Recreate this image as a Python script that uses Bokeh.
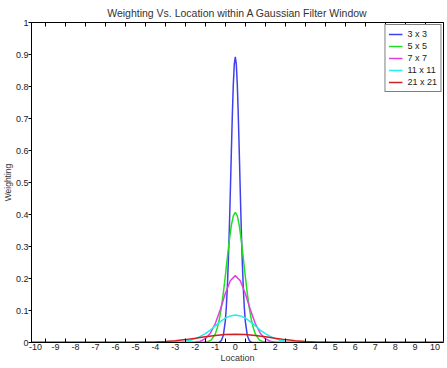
from bokeh.plotting import figure
from bokeh.models import FixedTicker, LinearAxis, Range1d, Legend, LegendItem, Title
from bokeh.embed import file_html
from bokeh.resources import INLINE

# ---- data ----
blue_x = [-10.5, -0.9, -0.8, -0.7, -0.6, -0.5, -0.45, -0.4, -0.35, -0.3, -0.25, -0.2, -0.15, -0.1, -0.05,
          0, 0.05, 0.1, 0.15, 0.2, 0.25, 0.3, 0.35, 0.4, 0.45, 0.5, 0.6, 0.7, 0.8, 0.9, 10.5]
blue_y = [0, 0, 0.001, 0.006, 0.022, 0.067, 0.110, 0.171, 0.252, 0.352, 0.468, 0.591, 0.708, 0.806, 0.870,
          0.893, 0.870, 0.806, 0.708, 0.591, 0.468, 0.352, 0.252, 0.171, 0.110, 0.067, 0.022, 0.006, 0.001, 0, 0]

green_x = [-10.5, -1.6, -1.4, -1.2, -1.0, -0.9, -0.8, -0.7, -0.6, -0.5, -0.4, -0.3, -0.2, -0.1,
           0, 0.1, 0.2, 0.3, 0.4, 0.5, 0.6, 0.7, 0.8, 0.9, 1.0, 1.2, 1.4, 1.6, 10.5]
green_y = [0, 0, 0.002, 0.008, 0.027, 0.046, 0.072, 0.108, 0.154, 0.207, 0.264, 0.319, 0.365, 0.396,
           0.407, 0.396, 0.365, 0.319, 0.264, 0.207, 0.154, 0.108, 0.072, 0.046, 0.027, 0.008, 0.002, 0, 0]

magenta_x = [-10.5, -2.25, -2.0, -1.75, -1.5, -1.25, -1.0, -0.75, -0.5, -0.25,
             0, 0.25, 0.5, 0.75, 1.0, 1.25, 1.5, 1.75, 2.0, 2.25, 10.5]
magenta_y = [0, 0, 0.001, 0.004, 0.012, 0.029, 0.059, 0.103, 0.153, 0.193,
             0.209, 0.193, 0.153, 0.103, 0.059, 0.029, 0.012, 0.004, 0.001, 0, 0]

cyan_x = [-10.5, -3.5, -3.0, -2.75, -2.5, -2.25, -2.0, -1.75, -1.5, -1.25, -1.0, -0.75, -0.5, -0.25,
          0, 0.25, 0.5, 0.75, 1.0, 1.25, 1.5, 1.75, 2.0, 2.25, 2.5, 2.75, 3.0, 3.5, 10.5]
cyan_y = [0, 0, 0.001, 0.002, 0.004, 0.007, 0.012, 0.019, 0.028, 0.039, 0.052, 0.065, 0.076, 0.083,
          0.086, 0.083, 0.076, 0.065, 0.052, 0.039, 0.028, 0.019, 0.012, 0.007, 0.004, 0.002, 0.001, 0, 0]

red_x = [-10.5, -5.0, -4.5, -4.0, -3.5, -3.0, -2.5, -2.0, -1.5, -1.0, -0.5,
         0, 0.5, 1.0, 1.5, 2.0, 2.5, 3.0, 3.5, 4.0, 4.5, 5.0, 10.5]
red_y = [0, 0, 0.0008, 0.0016, 0.003, 0.0055, 0.009, 0.013, 0.018, 0.022, 0.025,
         0.026, 0.025, 0.022, 0.018, 0.013, 0.009, 0.0055, 0.003, 0.0016, 0.0008, 0, 0]

series_labels = ["3 x 3", "5 x 5", "7 x 7", "11 x 11", "21 x 21"]
series_colors = ["#4040ee", "#22dd22", "#e040e0", "#22eeee", "#d02020"]

x_tick_values = [-10, -9, -8, -7, -6, -5, -4, -3, -2, -1, 0, 1, 2, 3, 4, 5, 6, 7, 8, 9, 10]
x_tick_labels = ["-10", "-9", "-8", "-7", "-6", "-5", "-4", "-3", "-2", "-1", "0",
                 "1", "2", "3", "4", "5", "6", "7", "8", "9", "10"]
x_minor_values = [-10.5, -9.5, -8.5, -7.5, -6.5, -5.5, -4.5, -3.5, -2.5, -1.5, -0.5,
                  0.5, 1.5, 2.5, 3.5, 4.5, 5.5, 6.5, 7.5, 8.5, 9.5]
y_tick_values = [0, 0.1, 0.2, 0.3, 0.4, 0.5, 0.6, 0.7, 0.8, 0.9, 1]
y_tick_labels = ["0", "0.1", "0.2", "0.3", "0.4", "0.5", "0.6", "0.7", "0.8", "0.9", "1"]

FONT = "Liberation Sans"

p = figure(width=447, height=368, output_backend="svg", toolbar_location=None,
           x_range=Range1d(-10.2, 10.42), y_range=Range1d(0, 1),
           min_border_left=0, min_border_right=4, min_border_top=22, min_border_bottom=26,
           title="Weighting Vs. Location within A Gaussian Filter Window")

p.title.align = "center"
p.title.text_font = FONT
p.title.text_font_size = "10.5px"
p.title.text_font_style = "normal"
p.title.text_color = "#333333"
p.title.standoff = 8
p.title.offset = 0

p.grid.visible = False
p.outline_line_color = "black"
p.outline_line_width = 1
p.background_fill_color = "white"
p.border_fill_color = "white"

xs = [blue_x, green_x, magenta_x, cyan_x, red_x]
ys = [blue_y, green_y, magenta_y, cyan_y, red_y]
renderers = []
for xv, yv, c in zip(xs, ys, series_colors):
    renderers.append(p.line(xv, yv, line_color=c, line_width=1.5))

# bottom axis
xa = p.xaxis[0]
xa.ticker = FixedTicker(ticks=x_tick_values, minor_ticks=x_minor_values)
xa.major_label_overrides = dict(zip(x_tick_values, x_tick_labels))
xa.major_tick_in = 0
xa.major_tick_out = 0
xa.minor_tick_in = 4
xa.minor_tick_out = 0
xa.major_label_standoff = 1
xa.major_label_text_font = FONT
xa.major_label_text_font_size = "9px"
xa.major_label_text_color = "#222222"
xa.axis_label = "Location"
xa.axis_label_standoff = 0
xa.axis_label_text_font = FONT
xa.axis_label_text_font_size = "9px"
xa.axis_label_text_font_style = "normal"
xa.axis_label_text_color = "#333333"
xa.axis_line_color = "black"

# top axis (ticks only)
top = LinearAxis(ticker=FixedTicker(ticks=[], minor_ticks=x_minor_values),
                 major_tick_in=0, major_tick_out=0, minor_tick_in=4, minor_tick_out=0,
                 major_label_standoff=0, major_label_text_font_size="0px",
                 axis_line_color="black")
p.add_layout(top, "above")

# left axis
ya = p.yaxis[0]
ya.ticker = FixedTicker(ticks=y_tick_values)
ya.major_label_overrides = dict(zip(y_tick_values, y_tick_labels))
ya.major_tick_in = 0
ya.major_tick_out = 3
ya.minor_tick_in = 0
ya.minor_tick_out = 0
ya.major_label_standoff = 0
ya.major_label_text_font = FONT
ya.major_label_text_font_size = "9px"
ya.major_label_text_color = "#222222"
ya.axis_line_color = "black"

# y axis title as a side title on the left
p.add_layout(Title(text="Weighting", align="center", text_font=FONT, text_font_size="8.5px",
                   text_font_style="normal", text_color="#333333", standoff=0, offset=0),
             "left")

legend = Legend(items=[LegendItem(label=l, renderers=[r]) for l, r in zip(series_labels, renderers)],
                location="top_right", border_line_color="black", border_line_width=1,
                label_text_font=FONT, label_text_font_size="9px", label_text_color="#222222",
                glyph_width=14, glyph_height=12, label_height=12, spacing=0, padding=3,
                margin=2, label_standoff=5, background_fill_alpha=1)
p.add_layout(legend)

open("out.html", "w").write(file_html(p, INLINE))
